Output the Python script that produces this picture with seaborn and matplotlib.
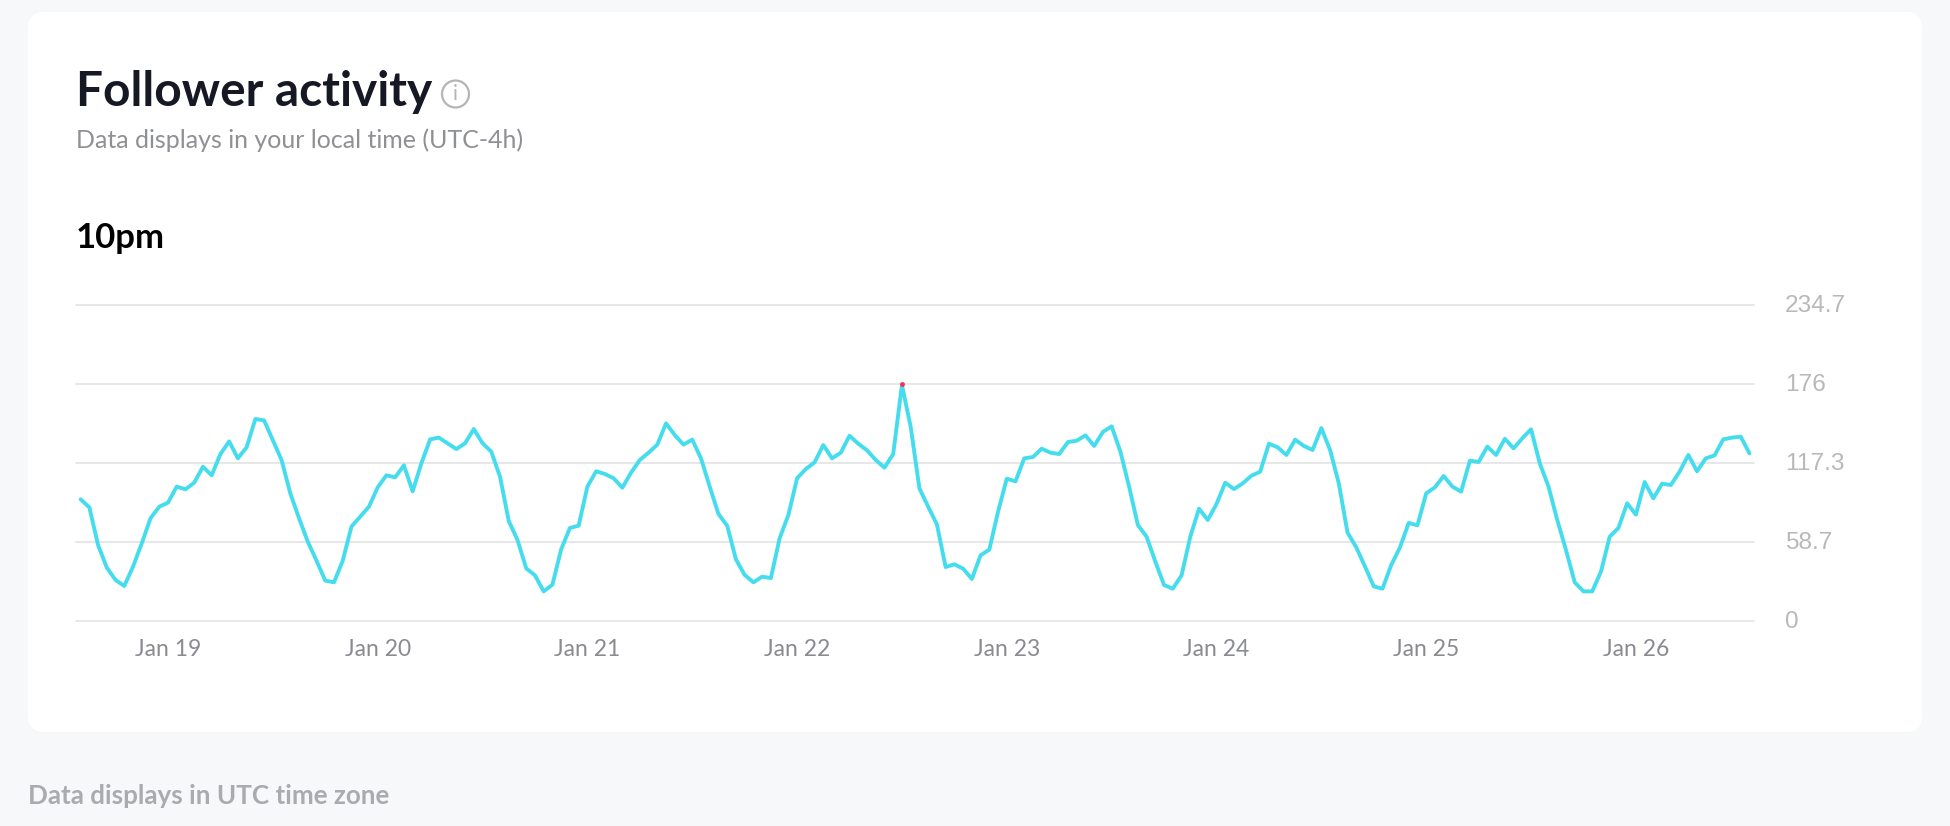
import pandas as pd
import numpy as np
import matplotlib.pyplot as plt
import matplotlib.dates as mdates
from matplotlib.patches import FancyBboxPatch, Circle
from matplotlib.transforms import ScaledTranslation
import seaborn as sns

# hourly follower activity
followers = [
    90.4, 84.4, 56.4, 39.6, 30.5, 26.0, 40.4, 57.7, 76.3, 84.9, 87.9, 99.8,
    97.8, 102.7, 114.6, 108.2, 124.0, 133.4, 120.8, 129.0, 150.0, 149.0, 134.4, 119.6,
    94.8, 76.3, 58.9, 44.8, 30.0, 28.7, 44.8, 70.1, 77.5, 84.9, 99.3, 108.2,
    106.7, 115.6, 96.3, 117.1, 134.9, 136.2, 132.0, 127.7, 132.0, 142.6, 132.0, 125.8,
    107.2, 74.3, 60.2, 39.1, 33.9, 22.0, 27.0, 53.2, 69.1, 70.8, 99.8, 111.2,
    109.2, 106.0, 99.0, 110.2, 119.6, 125.0, 131.0, 146.8, 138.1, 131.0, 134.7, 120.8,
    99.8, 79.5, 70.8, 45.8, 34.2, 28.7, 32.9, 31.9, 61.4, 78.7, 106.0, 112.9,
    117.8, 130.7, 120.8, 125.0, 137.6, 131.7, 126.8, 119.6, 113.9, 124.0, 175.3, 144.3,
    98.5, 84.9, 71.8, 40.1, 42.1, 38.9, 31.2, 48.8, 53.0, 81.2, 105.7, 103.7,
    120.8, 121.8, 128.0, 125.0, 124.0, 132.9, 133.9, 137.9, 130.0, 140.4, 144.6, 125.8,
    99.8, 71.3, 62.6, 44.1, 26.7, 24.0, 33.9, 62.6, 83.4, 75.0, 86.9, 102.7,
    98.0, 102.2, 107.9, 110.9, 131.7, 129.0, 123.3, 134.7, 130.0, 127.0, 143.3, 127.0,
    102.2, 65.6, 54.7, 40.4, 25.7, 24.0, 41.6, 54.7, 72.8, 71.1, 94.8, 99.3,
    107.7, 99.8, 96.1, 119.1, 118.1, 129.5, 123.3, 135.4, 128.2, 135.7, 142.4, 117.1,
    99.8, 75.0, 52.7, 28.7, 22.0, 22.0, 36.6, 62.6, 69.1, 87.4, 79.0, 103.2,
    91.1, 102.0, 101.0, 110.9, 123.3, 111.2, 120.8, 123.0, 134.9, 136.2, 136.9, 124.5,
]
y_ticks = [0, 58.7, 117.3, 176, 234.7]
y_tick_labels = ['0', '58.7', '117.3', '176', '234.7']
day_ticks = pd.date_range('2021-01-19', '2021-01-26', freq='D')
times = pd.date_range('2021-01-18 14:00', periods=len(followers), freq='h')
peak_index = 94
peak_value = 176

W, H = 1950, 826
BG = '#F7F8FA'

sns.set_theme(style='white')
plt.rcParams['font.family'] = ['Lato', 'DejaVu Sans']

fig = plt.figure(figsize=(W / 100, H / 100), dpi=100, facecolor=BG)

# page layer in pixel coordinates
page = fig.add_axes([0, 0, 1, 1], zorder=0)
page.set_xlim(0, W)
page.set_ylim(H, 0)
page.axis('off')

# soft card shadow
for grow, alpha in [(12, 0.006), (8, 0.008), (5, 0.010), (2, 0.012)]:
    page.add_patch(FancyBboxPatch((42 - grow, 26 - grow + 3), 1866 + 2 * grow, 692 + 2 * grow,
                                  boxstyle='round,pad=0,rounding_size=16', fc='black',
                                  ec='none', alpha=alpha))
page.add_patch(FancyBboxPatch((42, 26), 1866, 692, boxstyle='round,pad=14,rounding_size=16',
                              fc='white', ec='none'))

page.text(76, 106, 'Follower activity', fontsize=34.4, fontweight='bold', color='#161823',
          ha='left', va='baseline')
page.text(76, 148, 'Data displays in your local time (UTC-4h)', fontsize=18, color='#8F9094',
          ha='left', va='baseline')
page.text(76, 248, '10pm', fontsize=25, fontweight='bold', color='black',
          ha='left', va='baseline')
page.text(28, 804, 'Data displays in UTC time zone', fontsize=18.7, fontweight='bold',
          color='#A9ABAE', ha='left', va='baseline')

# info icon
page.add_patch(Circle((455.5, 94), 13.5, fc='none', ec='#B5B5B5', lw=1.6))
page.text(455.5, 94.5, 'i', fontsize=15, color='#B5B5B5', ha='center', va='center')

# chart
ax_left, ax_right, ax_top, ax_bottom = 75.8, 1753.5, 305, 621
ax = fig.add_axes([ax_left / W, 1 - ax_bottom / H, (ax_right - ax_left) / W, (ax_bottom - ax_top) / H],
                  zorder=1)
ax.patch.set_alpha(0)

df = pd.DataFrame({'time': times, 'followers': followers})
sns.lineplot(data=df, x='time', y='followers', ax=ax, color='#45DDEE', linewidth=2.8, zorder=3)
ax.scatter([times[peak_index]], [peak_value], s=12, color='#FE2C55', zorder=4, linewidths=0)

step = times[1] - times[0]
ax.set_xlim(times[0] - 0.55 * step, times[-1] + 0.46 * step)
ax.set_ylim(0, 234.7)
ax.set_xlabel('')
ax.set_ylabel('')

ax.set_yticks(y_ticks)
ax.set_yticklabels(y_tick_labels)
ax.yaxis.tick_right()
ax.tick_params(axis='y', length=0, pad=22.5, labelsize=17.6, labelcolor='#B9B9B9')
nudge = ScaledTranslation(0, 1.5 / 100, fig.dpi_scale_trans)
for label in ax.get_yticklabels():
    label.set_fontfamily('Liberation Sans')
    label.set_transform(label.get_transform() + nudge)

ax.set_xticks(day_ticks)
ax.xaxis.set_major_formatter(mdates.DateFormatter('%b %d'))
ax.tick_params(axis='x', length=0, pad=13, labelsize=16.5, labelcolor='#8A8B91')

ax.grid(False)
ax.yaxis.grid(True, color='#E3E3E3', linewidth=1.2, zorder=1)
for line in ax.get_ygridlines():
    line.set_clip_on(False)
sns.despine(ax=ax, left=True, bottom=True, right=True, top=True)

fig.savefig('out.png', dpi=100, facecolor=BG)
